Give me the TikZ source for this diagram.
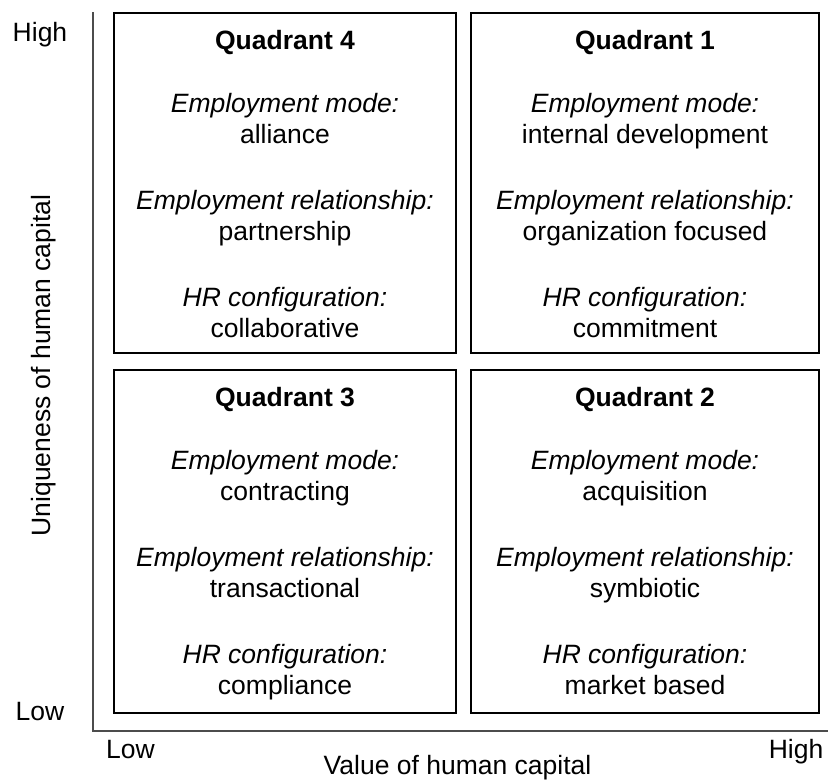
\documentclass[tikz,border=0pt]{standalone}
\usepackage{fontspec}
\setmainfont{Liberation Sans}
\usetikzlibrary{positioning}

\tikzset{
  axisline/.style={line width=2.4pt,black!70},
  quadbox/.style={draw=black,line width=1.4pt,inner sep=0pt},
  quadtext/.style={align=center,inner sep=0pt},
  axislabel/.style={anchor=base,inner sep=0pt}
}

\begin{document}
\begin{tikzpicture}[x=1pt,y=-1pt,font=\fontsize{26.5}{31}\selectfont]
\useasboundingbox (0,0) rectangle (829,780);
% axes
\coordinate (origin) at (93,731);
\coordinate (ytop) at (93,12);
\coordinate (xend) at (828,731);
\draw[axisline] (ytop)--(origin)--(xend);
\node[axislabel] (yhigh) at (40,41) {High};
\node[axislabel] (ylow) at (40,720) {Low};
\node[axislabel] (xlow) at (130.5,758) {Low};
\node[axislabel] (xhigh) at (796,758) {High};
\node[axislabel] (xname) at (457.5,774) {Value of human capital};
\node[axislabel,rotate=90] (yname) at (50,365.5) {Uniqueness of human capital};
% quadrants
\foreach \q/\cx/\cy/\w/\h/\mode/\rel/\conf in {
  4/285/183/342/340/alliance/partnership/collaborative,
  1/645/183/348/340/internal development/organization focused/commitment,
  3/285/541.5/342/343/contracting/transactional/compliance,
  2/645/541.5/348/343/acquisition/symbiotic/market based}
{
\node[quadbox,minimum width=\w,minimum height=\h] (q\q) at (\cx,\cy) {};
\node[quadtext,below=17.5pt of q\q.north] (t\q) {\textbf{Quadrant \q}\\[32pt]
  \textit{Employment mode:}\\ \mode\\[35pt]
  \textit{Employment relationship:}\\ \rel\\[35pt]
  \textit{HR configuration:}\\ \conf};
}
\end{tikzpicture}
\end{document}
